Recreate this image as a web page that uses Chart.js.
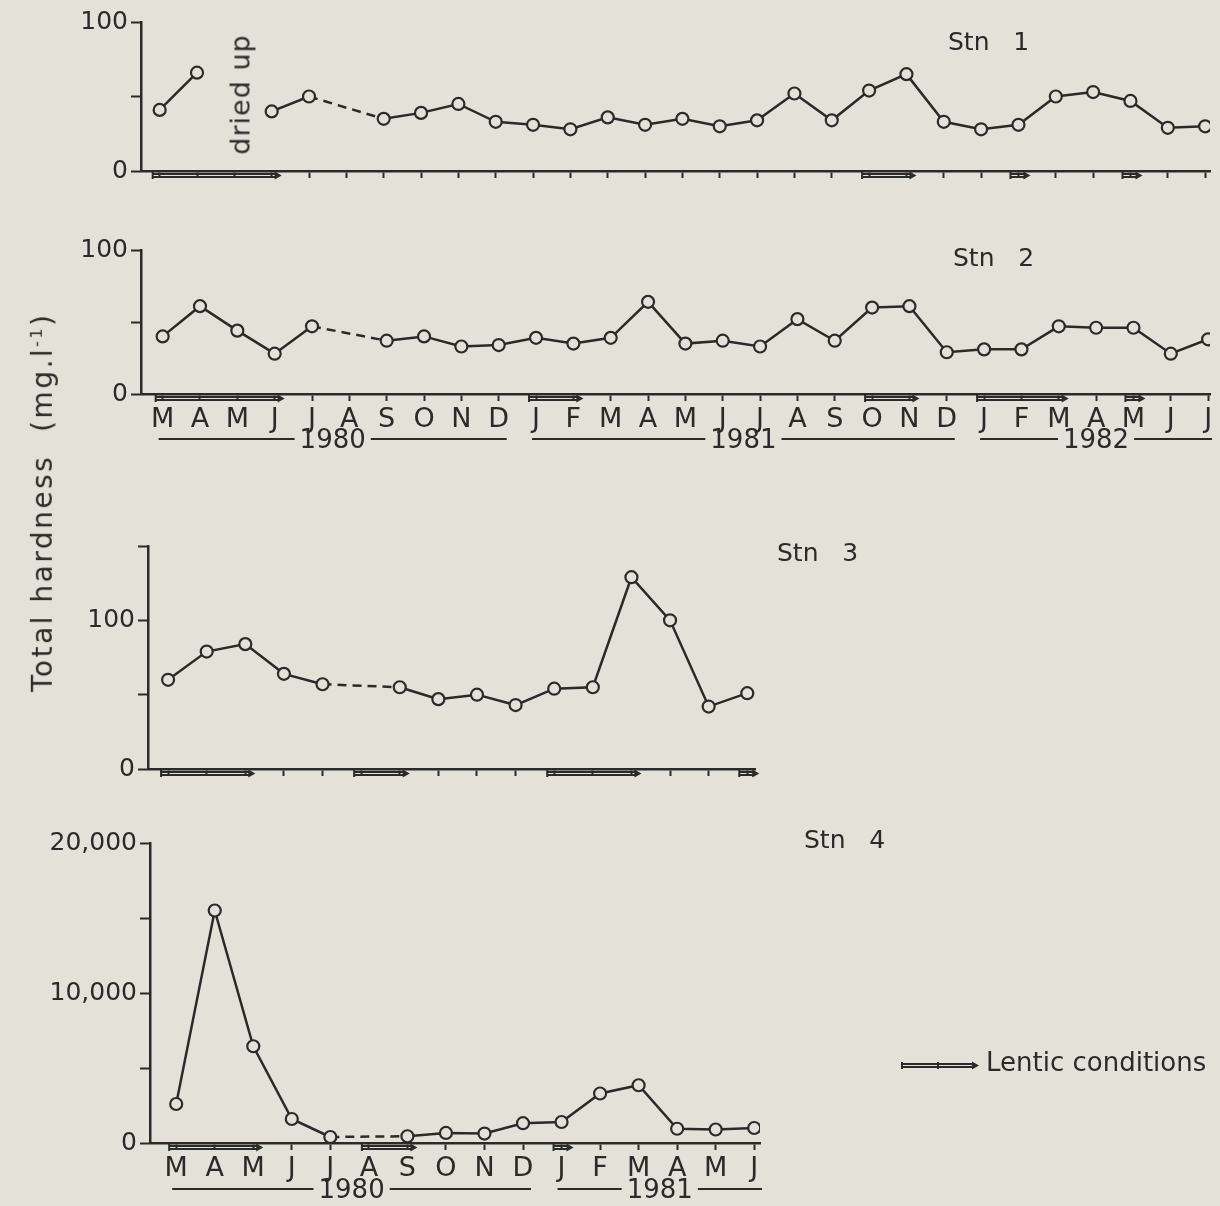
<!DOCTYPE html>
<html>
<head>
<meta charset="utf-8">
<script src="https://cdn.jsdelivr.net/npm/chart.js@4.4.1/dist/chart.umd.min.js"></script>
<style>
  html, body { margin: 0; padding: 0; background: #e4e2d8; }
  #page { position: relative; width: 1220px; height: 1206px; overflow: hidden; font-family: "DejaVu Sans", sans-serif; color: #2a2a2a; }
  canvas { position: absolute; left: 0; }
  .lbl { position: absolute; font-size: 25px; white-space: pre; line-height: 1; }
  .rot { transform: rotate(-90deg); transform-origin: center center; }
</style>
</head>
<body>
<div id="page">
  <canvas id="c1" style="top:0px" width="1220" height="200"></canvas>
  <canvas id="c2" style="top:200px" width="1220" height="270"></canvas>
  <canvas id="c3" style="top:470px" width="1220" height="330"></canvas>
  <canvas id="c4" style="top:800px" width="1220" height="406"></canvas>

  <div class="lbl" style="left:948px; top:29px;">Stn   1</div>
  <div class="lbl" style="left:953px; top:245px;">Stn   2</div>
  <div class="lbl" style="left:777px; top:540px;">Stn   3</div>
  <div class="lbl" style="left:804px; top:827px;">Stn   4</div>
  <div class="lbl rot" style="left:175px; top:81px; width:130px; text-align:center; font-size:27px; letter-spacing:1px;">dried up</div>
  <div class="lbl rot" style="left:-177px; top:488px; width:440px; text-align:center; font-size:28px; letter-spacing:2.5px;">Total hardness  (mg.l<sup style="font-size:16px">-1</sup>)</div>
  <div class="lbl" style="left:986px; top:1049px; font-size:26px;">Lentic conditions</div>
</div>
<script>
// months Mar 1980 .. Jul 1982
const months = ["M","A","M","J","J","A","S","O","N","D","J","F","M","A","M","J","J","A","S","O","N","D","J","F","M","A","M","J","J"];

// total hardness (mg/l), null = no sample
const stn1 = [41, 66, null, 40, 50, null, 35, 39, 45, 33, 31, 28, 36, 31, 35, 30, 34, 52, 34, 54, 65, 33, 28, 31, 50, 53, 47, 29, 30];
const stn2 = [40, 61, 44, 28, 47, null, 37, 40, 33, 34, 39, 35, 39, 64, 35, 37, 33, 52, 37, 60, 61, 29, 31, 31, 47, 46, 46, 28, 38];
const stn3 = [60, 79, 84, 64, 57, null, 55, 47, 50, 43, 54, 55, 129, 100, 42, 51];
const stn4 = [2600, 15500, 6450, 1600, 400, null, 450, 670, 630, 1320, 1400, 3300, 3850, 950, 900, 1000];

// month index where Stn 1 dried up (no line drawn across it)
const driedUp1 = [2];

// lentic condition periods [first month index, last month index]
const lentic1 = [[0, 3], [19, 20], [23, 23], [26, 26]];
const lentic2 = [[0, 3], [10, 11], [19, 20], [22, 24], [26, 26]];
const lentic3 = [[0, 2], [5, 6], [10, 12], [15, 15]];
const lentic4 = [[0, 2], [5, 6], [10, 10]];

// year spans under the month labels
const years2 = [[0, 9, "1980"], [10, 21, "1981"], [22, 28, "1982"]];
const years4 = [[0, 9, "1980"], [10, 15, "1981"]];

const INK = "#2a2a2a";
const BG = "#e4e2d8";
const FONT = "DejaVu Sans";

const decor = {
  id: "decor",
  afterDraw(chart, args, opts) {
    const c = chart.ctx;
    const xs = chart.scales.x;
    const yb = chart.chartArea.bottom;
    c.save();
    c.strokeStyle = INK;
    c.fillStyle = INK;
    (opts.lentic || []).forEach(([a, b]) => {
      let x0 = xs.getPixelForValue(a) - 7;
      let x1 = xs.getPixelForValue(b) + 5;
      if (a === b) { x0 = xs.getPixelForValue(a) - 8; x1 = xs.getPixelForValue(a) + 7; }
      drawLentic(c, x0, x1, yb + 3);
    });
    if (opts.years) {
      c.font = "26px " + FONT;
      c.textAlign = "center";
      c.textBaseline = "middle";
      c.lineWidth = 2;
      opts.years.forEach(([a, b, t]) => {
        const x0 = xs.getPixelForValue(a) - 4;
        const x1 = Math.min(xs.getPixelForValue(b) + 8, xs.right + 2);
        const xm = (x0 + x1) / 2;
        const w = c.measureText(t).width / 2 + 5;
        const y = yb + opts.yearOffset;
        c.beginPath();
        c.moveTo(x0, y); c.lineTo(xm - w, y);
        c.moveTo(xm + w, y); c.lineTo(x1, y);
        c.stroke();
        c.fillText(t, xm, y + 2);
      });
    }
    if (opts.legend) {
      const [x0, x1, y] = opts.legend;
      drawLentic(c, x0, x1, y);
      c.lineWidth = 2;
      c.beginPath();
      c.moveTo((x0 + x1) / 2, y - 2);
      c.lineTo((x0 + x1) / 2, y + 5);
      c.stroke();
    }
    c.restore();
  }
};

function drawLentic(c, x0, x1, y) {
  c.lineWidth = 2;
  c.beginPath();
  c.moveTo(x0, y); c.lineTo(x1, y);
  c.moveTo(x0, y + 3); c.lineTo(x1, y + 3);
  c.moveTo(x0, y - 2); c.lineTo(x0, y + 5);
  c.stroke();
  c.beginPath();
  c.moveTo(x1 + 5, y + 1.5);
  c.lineTo(x1 - 2, y - 2.5);
  c.lineTo(x1 - 2, y + 5.5);
  c.closePath();
  c.fill();
}

function makeChart(id, cfg) {
  const gapIdx = cfg.skipLine || [];
  const data = cfg.values.map((v, i) => ({ x: i, y: v }));
  const overGap = ctx => gapIdx.includes(ctx.p0DataIndex) || gapIdx.includes(ctx.p1DataIndex);
  return new Chart(document.getElementById(id), {
    type: "line",
    data: {
      datasets: [{
        data: data,
        borderColor: INK,
        borderWidth: 2.5,
        pointRadius: 6,
        pointBorderWidth: 2.2,
        pointBackgroundColor: BG,
        pointBorderColor: INK,
        tension: 0,
        spanGaps: true,
        segment: {
          borderColor: ctx => (overGap(ctx) ? "rgba(0,0,0,0)" : undefined),
          borderDash: ctx => (!overGap(ctx) && (ctx.p0.skip || ctx.p1.skip) ? [9, 6] : undefined)
        }
      }]
    },
    options: {
      responsive: false,
      animation: false,
      events: [],
      layout: { padding: { top: cfg.top, right: cfg.right, left: 0, bottom: 0 } },
      plugins: {
        legend: { display: false },
        tooltip: { enabled: false },
        decor: { lentic: cfg.lentic, years: cfg.years, yearOffset: cfg.yearOffset, legend: cfg.legend }
      },
      scales: {
        x: {
          type: "linear",
          min: cfg.xmin,
          max: cfg.xmax,
          afterFit: a => { a.height = cfg.xh; },
          border: { display: true, color: INK, width: 2.5 },
          grid: { drawOnChartArea: false, drawTicks: true, tickLength: 7, tickWidth: 2, color: INK },
          ticks: {
            stepSize: 1,
            includeBounds: false,
            autoSkip: false,
            maxRotation: 0,
            padding: 3,
            color: INK,
            font: { family: FONT, size: 27 },
            callback: v => (cfg.showMonths && Number.isInteger(v) ? months[v] : "")
          }
        },
        y: {
          min: 0,
          max: cfg.ymax,
          afterFit: a => { a.width = cfg.yw; },
          border: { display: true, color: INK, width: 2.5 },
          grid: { drawOnChartArea: false, drawTicks: true, tickLength: 10, tickWidth: 2, color: INK },
          ticks: {
            stepSize: cfg.ystep,
            padding: 3,
            color: INK,
            font: { family: FONT, size: 25 },
            callback: v => (cfg.yLabels.includes(v) ? (v >= 1000 ? v.toLocaleString("en-US") : String(v)) : "")
          }
        }
      }
    },
    plugins: [decor]
  });
}

makeChart("c1", {
  values: stn1, skipLine: driedUp1, lentic: lentic1, showMonths: false,
  top: 22, right: 10, yw: 141, xh: 29, xmin: -0.5, xmax: 28.13,
  ymax: 100, ystep: 50, yLabels: [0, 100]
});

makeChart("c2", {
  values: stn2, lentic: lentic2, showMonths: true, years: years2, yearOffset: 45,
  top: 50, right: 10, yw: 141, xh: 76, xmin: -0.58, xmax: 28.05,
  ymax: 100, ystep: 50, yLabels: [0, 100]
});

makeChart("c3", {
  values: stn3, lentic: lentic3, showMonths: false,
  top: 76, right: 465, yw: 148, xh: 31, xmin: -0.52, xmax: 15.2,
  ymax: 150, ystep: 50, yLabels: [0, 100]
});

makeChart("c4", {
  values: stn4, lentic: lentic4, showMonths: true, years: years4, yearOffset: 46,
  legend: [902, 974, 1064 - 800],
  top: 43, right: 460, yw: 150, xh: 63, xmin: -0.68, xmax: 15.15,
  ymax: 20000, ystep: 5000, yLabels: [0, 10000, 20000]
});
</script>
</body>
</html>
